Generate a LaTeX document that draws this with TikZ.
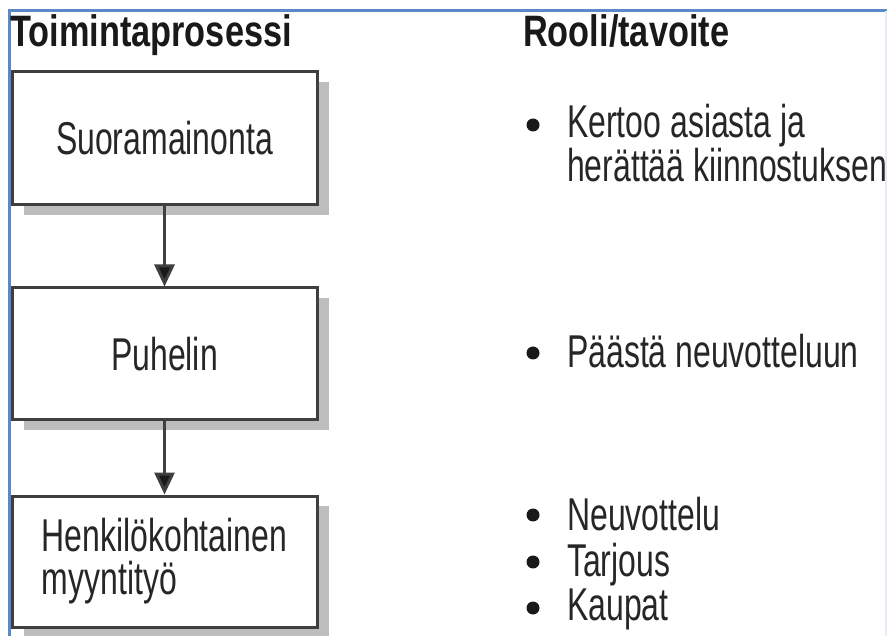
\documentclass[tikz,border=0pt]{standalone}
\usepackage{fontspec}
\usetikzlibrary{arrows.meta,shadows}
\newfontfamily\bodyfnt{Liberation Sans}[FakeStretch=0.695]
\newfontfamily\headfnt{Liberation Sans}[FakeStretch=0.78]
\definecolor{frameblue}{HTML}{5A8AC6}
\definecolor{boxline}{HTML}{3F3F3F}
\definecolor{shadowgray}{HTML}{BDBDBD}
\tikzset{
  stepbox/.style={draw=boxline, line width=3pt, fill=white, minimum width=305pt,
    inner sep=0pt, text=black!85, font=\bodyfnt\fontsize{46}{37}\selectfont,
    general shadow={fill=shadowgray, shadow xshift=12pt, shadow yshift=-10pt}},
  headtxt/.style={anchor=base west, inner sep=0pt, font=\headfnt\bfseries\fontsize{44}{44}\selectfont, text=black!90},
  itemtxt/.style={anchor=base west, inner sep=0pt, font=\bodyfnt\fontsize{46}{37}\selectfont, text=black!85},
  dot/.style={circle, fill=black!90, minimum size=13pt, inner sep=0pt},
  flowarrow/.style={draw=boxline, line width=3pt, -{Triangle[width=20pt,length=22pt,fill=black!90]}},
}
\begin{document}
\begin{tikzpicture}[x=1pt,y=-1pt]
\useasboundingbox (0,0) rectangle (887,636);
% frame lines
\coordinate (ftl) at (9,11);
\coordinate (ftr) at (887,11);
\coordinate (fbl) at (9,636);
\draw[frameblue, line width=3pt] (ftr) -- (ftl) -- (fbl);
\draw[frameblue!15, line width=1.5pt] (886,11) -- (886,636);
% headers
\node[headtxt] (h1) at (10,47) {Toimintaprosessi};
\node[headtxt] (h2) at (523,47) {Rooli/tavoite};
% boxes
\node[stepbox, minimum height=133pt] (b1) at (164.5,138.5) {Suoramainonta};
\node[stepbox, minimum height=132pt] (b2) at (164.5,354) {Puhelin};
\node[stepbox, minimum height=131pt, align=left] (b3) at (164.5,561.5) {Henkilökohtainen\\[6pt]myyntityö};
% arrows
\draw[flowarrow] (b1.south) -- (b2.north);
\draw[flowarrow] (b2.south) -- (b3.north);
% right column
\node[dot] (d1) at (533,125) {};
\node[itemtxt, align=left, anchor=north west] (t1) at (567,104) {Kertoo asiasta ja\\herättää kiinnostuksen};
\node[dot] (d2) at (533,353) {};
\node[itemtxt] (t2) at (567,368) {Päästä neuvotteluun};
\node[dot] (d3) at (533,515) {};
\node[itemtxt] (t3) at (567,530) {Neuvottelu};
\node[dot] (d4) at (533,562) {};
\node[itemtxt] (t4) at (567,576) {Tarjous};
\node[dot] (d5) at (533,608) {};
\node[itemtxt] (t5) at (567,620) {Kaupat};
\end{tikzpicture}
\end{document}
